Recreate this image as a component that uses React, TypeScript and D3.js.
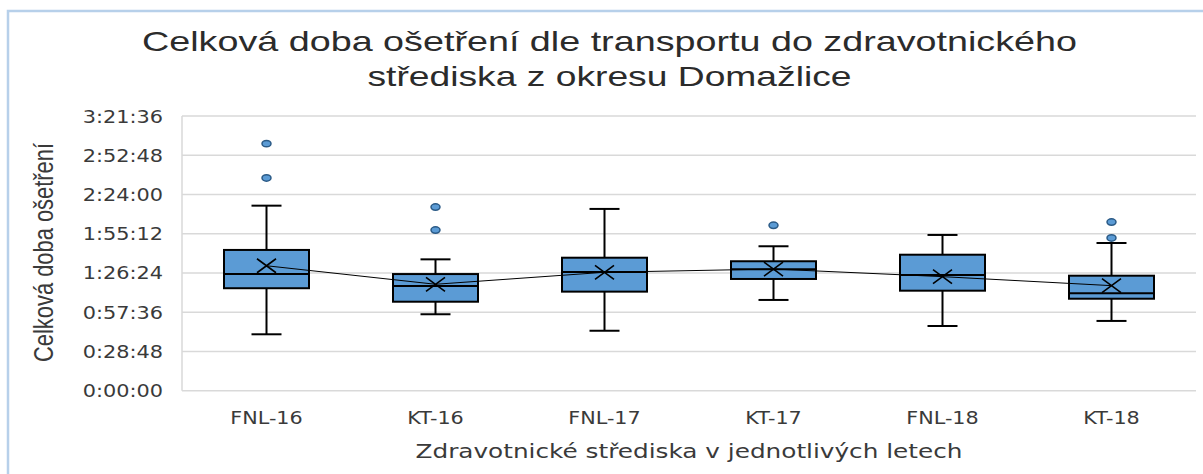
import React, { useEffect, useRef } from 'react';
import * as d3 from 'd3';

// values in minutes
const categories = ['FNL-16', 'KT-16', 'FNL-17', 'KT-17', 'FNL-18', 'KT-18'];
const whiskerLow = [41.4, 56.1, 44.0, 66.6, 47.5, 51.2];
const q1 = [75.2, 65.3, 72.7, 82.0, 73.4, 67.5];
const median = [85.6, 76.8, 87.1, 89.1, 84.9, 71.5];
const q3 = [103.3, 85.6, 97.6, 95.0, 99.8, 84.4];
const whiskerHigh = [135.8, 96.4, 133.4, 106.0, 114.3, 108.4];
const means = [91.7, 78.1, 86.9, 89.3, 83.7, 77.1];
const outliers = [[181.3, 156.1], [134.8, 117.9], [], [121.4], [], [123.8, 112.1]];
const yTickLabels = ['0:00:00', '0:28:48', '0:57:36', '1:26:24', '1:55:12', '2:24:00', '2:52:48', '3:21:36'];

const titleLines = ['Celková doba ošetření dle transportu do zdravotnického', 'střediska z okresu Domažlice'];
const xTitle = 'Zdravotnické střediska v jednotlivých letech';
const yTitle = 'Celková doba ošetření';

const toMinutes = (s: string) => {
  const [h, m, sec] = s.split(':').map(Number);
  return h * 60 + m + sec / 60;
};

export default function App() {
  const ref = useRef<SVGSVGElement>(null);

  useEffect(() => {
    if (!ref.current) return;
    const svg = d3.select(ref.current);
    svg.selectAll('*').remove();

    const W = 1203;
    const H = 474;
    const plot = { left: 182, right: 1196, top: 116, bottom: 390.7 };
    const textColor = '#3a3a3a';
    const boxFill = '#5b9bd5';

    svg.attr('width', W).attr('height', H);

    // chart frame
    svg.append('rect')
      .attr('x', 8).attr('y', 11)
      .attr('width', W + 20).attr('height', H + 20)
      .attr('fill', '#fff')
      .attr('stroke', '#b7d0ea')
      .attr('stroke-width', 2.5);

    const tickValues = yTickLabels.map(toMinutes);
    const y = d3.scaleLinear()
      .domain([0, tickValues[tickValues.length - 1]])
      .range([plot.bottom, plot.top]);

    const x = d3.scaleBand()
      .domain(categories)
      .range([plot.left, plot.right])
      .padding(0);

    // gridlines
    svg.append('g')
      .selectAll('line')
      .data(tickValues)
      .enter()
      .append('line')
      .attr('x1', plot.left).attr('x2', plot.right)
      .attr('y1', d => y(d)).attr('y2', d => y(d))
      .attr('stroke', '#d9d9d9')
      .attr('stroke-width', 1.5);

    svg.append('line')
      .attr('x1', plot.left).attr('x2', plot.left)
      .attr('y1', plot.top).attr('y2', plot.bottom)
      .attr('stroke', '#d9d9d9')
      .attr('stroke-width', 1.5);

    // y tick labels
    svg.append('g')
      .selectAll('text')
      .data(yTickLabels)
      .enter()
      .append('text')
      .attr('transform', d => `translate(163,${y(toMinutes(d)) + 6.5}) scale(1.19,1)`)
      .attr('text-anchor', 'end')
      .style('font-family', '"DejaVu Sans", sans-serif')
      .style('font-size', '17.5px')
      .attr('fill', textColor)
      .text(d => d);

    // x tick labels
    svg.append('g')
      .selectAll('text')
      .data(categories)
      .enter()
      .append('text')
      .attr('transform', d => `translate(${(x(d) || 0) + x.bandwidth() / 2},424) scale(1.22,1)`)
      .attr('text-anchor', 'middle')
      .style('font-family', '"DejaVu Sans", sans-serif')
      .style('font-size', '17px')
      .attr('fill', textColor)
      .text(d => d);

    const cx = (i: number) => (x(categories[i]) || 0) + x.bandwidth() / 2;
    const boxHalf = 42.5;
    const capHalf = 15;

    const boxes = svg.append('g');
    categories.forEach((cat, i) => {
      const g = boxes.append('g');
      const c = cx(i);
      // whiskers
      g.append('line')
        .attr('x1', c).attr('x2', c)
        .attr('y1', y(whiskerHigh[i])).attr('y2', y(q3[i]))
        .attr('stroke', '#000').attr('stroke-width', 2);
      g.append('line')
        .attr('x1', c).attr('x2', c)
        .attr('y1', y(q1[i])).attr('y2', y(whiskerLow[i]))
        .attr('stroke', '#000').attr('stroke-width', 2);
      [whiskerHigh[i], whiskerLow[i]].forEach(v => {
        g.append('line')
          .attr('x1', c - capHalf).attr('x2', c + capHalf)
          .attr('y1', y(v)).attr('y2', y(v))
          .attr('stroke', '#000').attr('stroke-width', 2);
      });
      // box
      g.append('rect')
        .attr('x', c - boxHalf)
        .attr('y', y(q3[i]))
        .attr('width', boxHalf * 2)
        .attr('height', y(q1[i]) - y(q3[i]))
        .attr('fill', boxFill)
        .attr('stroke', '#000')
        .attr('stroke-width', 2);
      g.append('line')
        .attr('x1', c - boxHalf).attr('x2', c + boxHalf)
        .attr('y1', y(median[i])).attr('y2', y(median[i]))
        .attr('stroke', '#000').attr('stroke-width', 2);
      // outliers
      g.selectAll('ellipse')
        .data(outliers[i])
        .enter()
        .append('ellipse')
        .attr('cx', c)
        .attr('cy', d => y(d))
        .attr('rx', 4.5).attr('ry', 3.2)
        .attr('fill', boxFill)
        .attr('stroke', '#2b5a86')
        .attr('stroke-width', 1.5);
    });

    // mean line
    const meanLine = d3.line<number>()
      .x((_, i) => cx(i))
      .y(d => y(d));
    svg.append('path')
      .datum(means)
      .attr('d', meanLine)
      .attr('fill', 'none')
      .attr('stroke', '#000')
      .attr('stroke-width', 1);

    // mean markers
    svg.append('g')
      .selectAll('path')
      .data(means)
      .enter()
      .append('path')
      .attr('d', (d, i) => {
        const px = cx(i);
        const py = y(d);
        return `M${px - 9.5},${py - 7}L${px + 9.5},${py + 7}M${px - 9.5},${py + 7}L${px + 9.5},${py - 7}`;
      })
      .attr('stroke', '#000')
      .attr('stroke-width', 1.6)
      .attr('fill', 'none');

    // title
    svg.append('g')
      .selectAll('text')
      .data(titleLines)
      .enter()
      .append('text')
      .attr('x', 609.5)
      .attr('y', (_, i) => 51 + i * 35)
      .attr('text-anchor', 'middle')
      .attr('textLength', (_, i) => (i === 0 ? 935 : 484))
      .attr('lengthAdjust', 'spacingAndGlyphs')
      .style('font-family', '"Liberation Sans Narrow", "Liberation Sans", sans-serif')
      .style('font-size', '28px')
      .attr('fill', '#2b2b2b')
      .text(d => d);

    // axis titles
    svg.append('text')
      .attr('x', (plot.left + plot.right) / 2)
      .attr('y', 458)
      .attr('text-anchor', 'middle')
      .attr('textLength', 547)
      .attr('lengthAdjust', 'spacingAndGlyphs')
      .style('font-family', '"DejaVu Sans", sans-serif')
      .style('font-size', '19.5px')
      .attr('fill', textColor)
      .text(xTitle);

    svg.append('text')
      .attr('transform', `translate(53,252.5) scale(1.3,1) rotate(-90)`)
      .attr('text-anchor', 'middle')
      .attr('textLength', 219)
      .attr('lengthAdjust', 'spacingAndGlyphs')
      .style('font-family', '"Liberation Sans Narrow", "Liberation Sans", sans-serif')
      .style('font-size', '21px')
      .attr('fill', textColor)
      .text(yTitle);
  }, []);

  return (
    <div style={{ position: 'absolute', left: 0, top: 0, width: 1203, height: 474, overflow: 'hidden', background: '#fff' }}>
      <svg ref={ref} style={{ display: 'block' }} role="img" aria-label="Box plot of total treatment time by health centre and year"></svg>
    </div>
  );
}
